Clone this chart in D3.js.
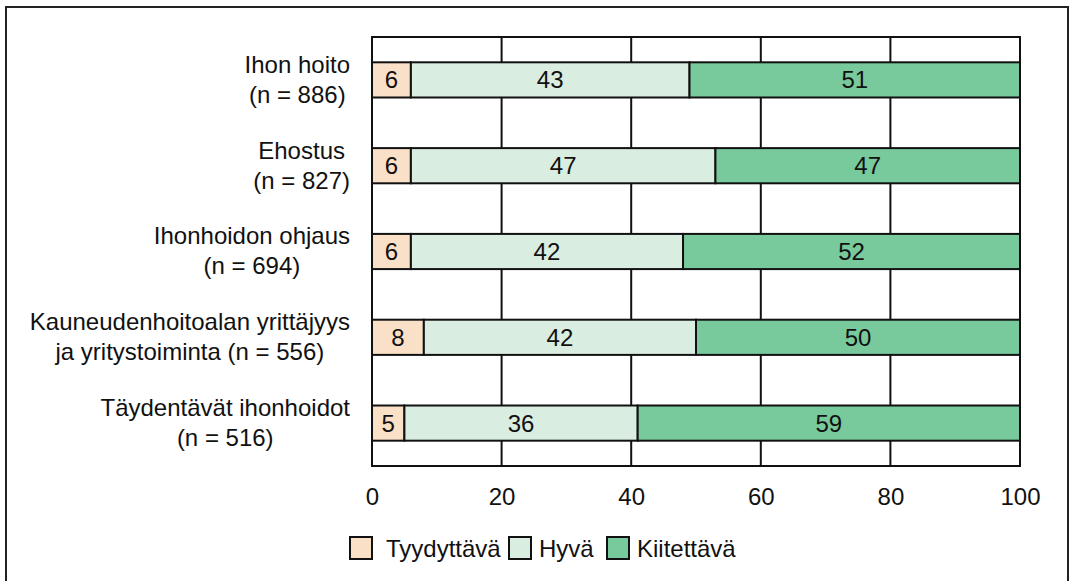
<!DOCTYPE html>
<html lang="fi">
<head>
  <meta charset="utf-8">
  <title>Arvosanat</title>
  <script src="https://d3js.org/d3.v7.min.js"></script>
  <style>
    body { margin: 0; background: white; }
    text { font-family: "Liberation Sans", Arial, sans-serif; fill: #111; }
    .cat { font-size: 24px; text-anchor: middle; }
    .tick text { font-size: 24px; }
    .label { font-size: 24px; text-anchor: middle; }
    .legend text { font-size: 24px; }
  </style>
</head>
<body>
  <div id="chart"></div>
  <script>
    var w = 1069;
    var h = 581;

    var categories = [
      ['Ihon hoito', '(n = 886)'],
      ['Ehostus', '(n = 827)'],
      ['Ihonhoidon ohjaus', '(n = 694)'],
      ['Kauneudenhoitoalan yrittäjyys', 'ja yritystoiminta (n = 556)'],
      ['Täydentävät ihonhoidot', '(n = 516)']
    ];
    var seriesNames = ['Tyydyttävä', 'Hyvä', 'Kiitettävä'];
    var tyydyttava = [6, 6, 6, 8, 5];
    var hyva = [43, 47, 42, 42, 36];
    var kiitettava = [51, 47, 52, 50, 59];
    var xTicks = [0, 20, 40, 60, 80, 100];
    var colors = ['#fbe0c8', '#daede1', '#78c99b'];

    var pLeft = 372, pRight = 1020, pTop = 37, pBottom = 466;

    var rows = categories.map(function (c, i) {
      return { name: c.join(' '), lines: c, t: tyydyttava[i], h: hyva[i], k: kiitettava[i] };
    });
    var stack = d3.stack().keys(['t', 'h', 'k'])(rows);

    var x = d3.scaleLinear().domain([0, 100]).range([pLeft, pRight]);
    var y = d3.scaleBand()
      .domain(rows.map(function (d) { return d.name; }))
      .range([pTop, pBottom])
      .paddingInner(0.59)
      .paddingOuter(0.295);

    var svg = d3.select('#chart').append('svg')
      .attr('width', w)
      .attr('height', h);

    // outer frame
    svg.append('rect')
      .attr('x', 6).attr('y', 7)
      .attr('width', 1062).attr('height', 650)
      .attr('fill', 'none')
      .attr('stroke', '#222')
      .attr('stroke-width', 2);

    // vertical grid
    svg.append('g').selectAll('line')
      .data(xTicks.slice(1, -1))
      .enter().append('line')
      .attr('x1', function (d) { return x(d); })
      .attr('x2', function (d) { return x(d); })
      .attr('y1', pTop).attr('y2', pBottom)
      .attr('stroke', '#111')
      .attr('stroke-width', 2);

    // bars
    var layer = svg.selectAll('g.layer')
      .data(stack)
      .enter().append('g')
      .attr('class', 'layer')
      .attr('fill', function (d, i) { return colors[i]; });

    layer.selectAll('rect')
      .data(function (d) { return d; })
      .enter().append('rect')
      .attr('x', function (d) { return x(d[0]); })
      .attr('y', function (d) { return y(d.data.name); })
      .attr('width', function (d) { return x(d[1]) - x(d[0]); })
      .attr('height', y.bandwidth())
      .attr('stroke', '#111')
      .attr('stroke-width', 2);

    layer.selectAll('text')
      .data(function (d) { return d; })
      .enter().append('text')
      .attr('class', 'label')
      .attr('x', function (d) { return (x(d[0]) + x(d[1])) / 2; })
      .attr('y', function (d) { return y(d.data.name) + y.bandwidth() / 2; })
      .attr('dy', '0.35em')
      .text(function (d) { return d[1] - d[0]; });

    // plot border
    svg.append('rect')
      .attr('x', pLeft).attr('y', pTop)
      .attr('width', pRight - pLeft).attr('height', pBottom - pTop)
      .attr('fill', 'none')
      .attr('stroke', '#111')
      .attr('stroke-width', 2);

    // x axis
    var xAxis = svg.append('g')
      .attr('transform', 'translate(0,' + pBottom + ')')
      .call(d3.axisBottom(x).tickValues(xTicks).tickSize(0).tickPadding(22));
    xAxis.select('.domain').remove();
    xAxis.selectAll('text').attr('fill', '#111').attr('font-family', null).attr('font-size', null);

    // category labels: lines centred on each other, block right-aligned
    var cat = svg.selectAll('text.cat')
      .data(rows)
      .enter().append('text')
      .attr('class', 'cat')
      .attr('y', function (d) { return y(d.name) + y.bandwidth() / 2; });
    cat.selectAll('tspan')
      .data(function (d) { return d.lines; })
      .enter().append('tspan')
      .attr('dy', function (d, i) { return i === 0 ? '-0.3em' : '1.25em'; })
      .text(function (d) { return d; });
    cat.each(function () {
      var spans = d3.select(this).selectAll('tspan');
      var maxW = 0;
      spans.each(function () { maxW = Math.max(maxW, this.getComputedTextLength()); });
      spans.attr('x', 350 - maxW / 2);
    });

    // legend
    var legendX = [350, 509, 607];
    var legend = svg.append('g').attr('class', 'legend')
      .selectAll('g')
      .data(seriesNames)
      .enter().append('g')
      .attr('transform', function (d, i) { return 'translate(' + legendX[i] + ',537)'; });
    legend.append('rect')
      .attr('width', 22).attr('height', 22)
      .attr('fill', function (d, i) { return colors[i]; })
      .attr('stroke', '#111')
      .attr('stroke-width', 2);
    legend.append('text')
      .attr('x', function (d, i) { return i === 0 ? 36 : 30; })
      .attr('y', 20)
      .text(function (d) { return d; });
  </script>
</body>
</html>
